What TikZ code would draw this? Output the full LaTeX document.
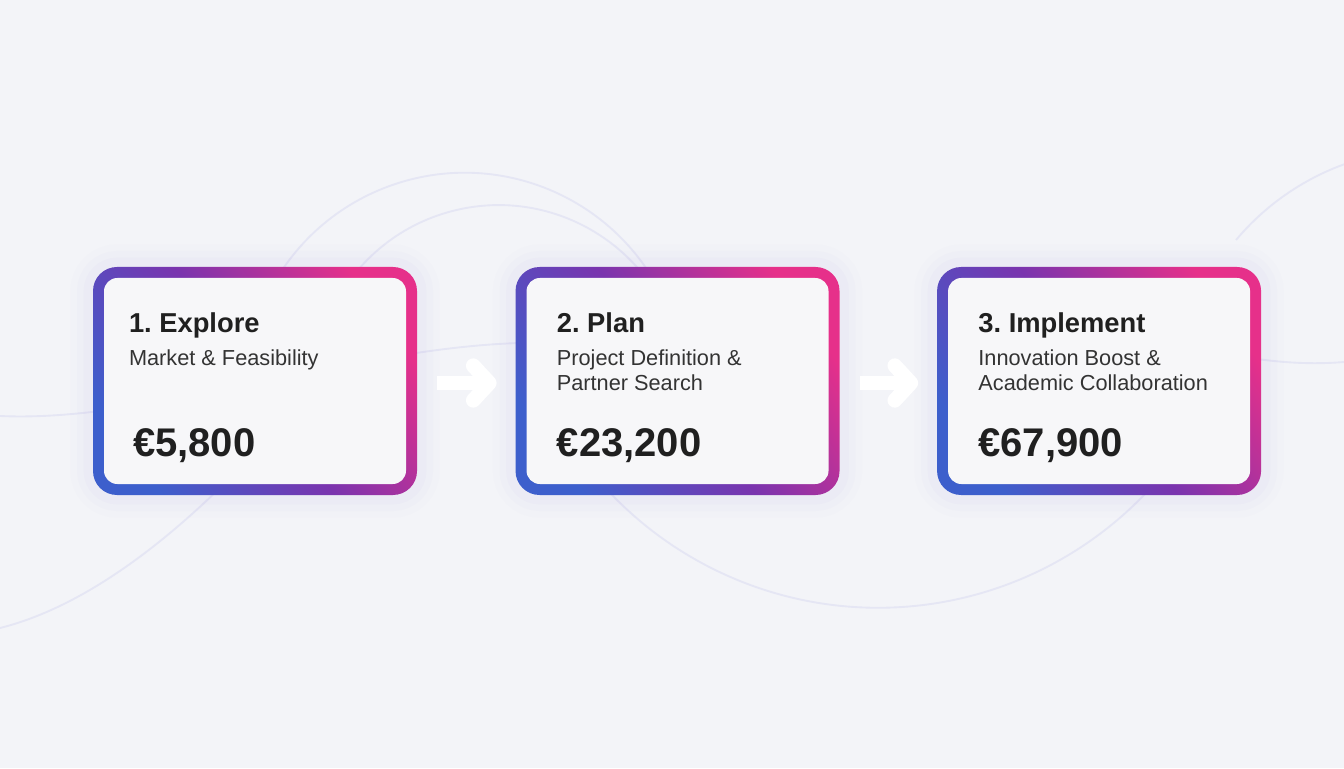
\documentclass[tikz,border=0pt]{standalone}
\usepackage{fontspec}
\setmainfont{Liberation Sans}
\usetikzlibrary{positioning,arrows.meta}
\frenchspacing

\definecolor{bgcol}{HTML}{F3F4F8}
\definecolor{ringblue}{HTML}{3D5FCC}
\definecolor{ringpurple}{HTML}{7A34AE}
\definecolor{ringpink}{HTML}{E6308A}
\definecolor{cardcol}{HTML}{F7F7F9}
\definecolor{inkcol}{HTML}{202020}
\definecolor{subcol}{HTML}{333333}
\definecolor{glowcol}{HTML}{B4A4F0}
\definecolor{swirlcol}{HTML}{E5E6F4}

\tikzset{
    card/.style={rectangle, rounded corners=18pt, minimum width=243pt, minimum height=171pt,
        preaction={draw=glowcol, line width=34pt, opacity=.025},
        preaction={draw=glowcol, line width=24pt, opacity=.035},
        preaction={draw=glowcol, line width=14pt, opacity=.05},
        bottom color=ringblue, top color=ringpink, middle color=ringpurple, shading angle=-55},
    cardface/.style={rectangle, rounded corners=10pt, fill=cardcol, minimum width=226.5pt, minimum height=154.5pt},
    steptitle/.style={anchor=base west, inner sep=0pt, text=inkcol, font=\bfseries\fontsize{20.5}{24}\selectfont},
    stepsub/.style={anchor=north west, inner sep=0pt, align=left, text=subcol, font=\fontsize{16.3}{18.75}\selectfont},
    stepprice/.style={anchor=base west, inner sep=0pt, text=inkcol, font=\bfseries\fontsize{30}{36}\selectfont},
    flow/.style={draw=white, line width=11pt, shorten <=15pt, shorten >=14pt,
        -{Straight Barb[round, length=12pt, width=26pt]}},
    swirl/.style={draw=swirlcol, line width=1.4pt}
}

\begin{document}
\begin{tikzpicture}[x=0.75pt, y=0.75pt]
    \useasboundingbox (0,0) rectangle (1344,768);
    \fill[bgcol] (0,0) rectangle (1344,768);

    % faint background swirls
    \draw[swirl] (258,300) arc[start angle=200, end angle=-20, radius=220];
    \draw[swirl] (320,330) arc[start angle=195, end angle=-15, radius=185];
    \draw[swirl] (575,318) arc[start angle=215, end angle=330, radius=370];
    \draw[swirl] (1236,528) arc[start angle=140, end angle=100, radius=255];
    \draw[swirl] (0,140) .. controls (80,160) and (160,220) .. (230,290);
    \draw[swirl] (0,352) .. controls (150,345) and (350,420) .. (520,425);
    \draw[swirl] (1250,410) .. controls (1290,404) and (1320,404) .. (1344,406);

    % the three steps
    \node[card] (explore) at (255,387) {};
    \node[card, right=73.5pt of explore] (plan) {};
    \node[card, right=72.75pt of plan] (implement) {};

    \node[cardface] (exploreface) at (explore) {};
    \node[cardface] (planface) at (plan) {};
    \node[cardface] (implementface) at (implement) {};

    \node[steptitle] (exploretitle) at ([shift={(27pt,-49.5pt)}]explore.north west) {1. Explore};
    \node[stepsub] (exploresub) at ([shift={(27pt,-62.3pt)}]explore.north west) {Market \& Feasibility};
    \node[stepprice] (exploreprice) at ([shift={(30pt,-142.5pt)}]explore.north west) {€5,800};

    \node[steptitle] (plantitle) at ([shift={(31pt,-49.5pt)}]plan.north west) {2. Plan};
    \node[stepsub] (plansub) at ([shift={(31pt,-62.3pt)}]plan.north west) {Project Definition \&\\Partner Search};
    \node[stepprice] (planprice) at ([shift={(31pt,-142.5pt)}]plan.north west) {€23,200};

    \node[steptitle] (implementtitle) at ([shift={(31pt,-49.5pt)}]implement.north west) {3. Implement};
    \node[stepsub] (implementsub) at ([shift={(31pt,-62.3pt)}]implement.north west) {Innovation Boost \&\\Academic Collaboration};
    \node[stepprice] (implementprice) at ([shift={(31pt,-142.5pt)}]implement.north west) {€67,900};

    % arrows between the steps
    \draw[flow] ([yshift=-1.5pt]explore.east) -- ([yshift=-1.5pt]plan.west);
    \draw[flow] ([yshift=-1.5pt]plan.east) -- ([yshift=-1.5pt]implement.west);
\end{tikzpicture}
\end{document}
